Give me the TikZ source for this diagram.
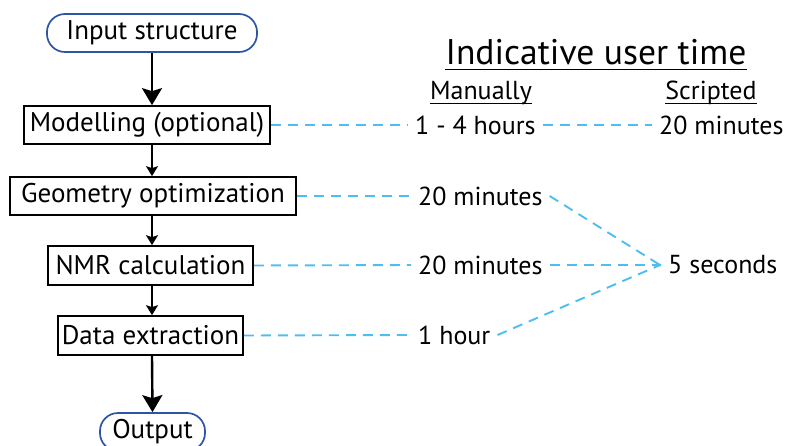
\documentclass[tikz,border=0pt]{standalone}
\usepackage{fontspec}
\setmainfont{PT Sans}
\usetikzlibrary{arrows.meta}
\definecolor{dashblue}{HTML}{4DBFEF}
\definecolor{termblue}{HTML}{2E55A3}
\tikzset{
  x=1pt,y=-1pt,
  stepbox/.style={draw=black,line width=1.7pt,inner sep=0pt,font=\fontsize{27}{31}\selectfont},
  termbox/.style={draw=termblue,line width=1.7pt,rounded corners=18pt,inner sep=0pt,font=\fontsize{27}{31}\selectfont},
  timetxt/.style={inner xsep=7pt,inner ysep=0pt,anchor=west,font=\fontsize{26}{30}\selectfont},
  headtxt/.style={inner sep=0pt,font=\fontsize{26}{30}\selectfont},
  conn/.style={dashblue,line width=1.9pt,dash pattern=on 10pt off 7pt},
  bigarrow/.style={line width=2.4pt,-{Stealth[length=17pt,width=20pt,inset=3pt]}},
  smallarrow/.style={line width=1.6pt,-{Stealth[length=10pt,width=12pt,inset=2pt]}},
}
\begin{document}
\begin{tikzpicture}
\useasboundingbox (0,0) rectangle (788,445);
% flow chart
\node[termbox,minimum width=210pt,minimum height=38pt] (in) at (152,33) {Input structure};
\node[stepbox,minimum width=246pt,minimum height=38pt] (mod) at (147,125) {Modelling (optional)};
\node[stepbox,minimum width=286pt,minimum height=38pt] (geo) at (153,196) {Geometry optimization};
\node[stepbox,minimum width=205pt,minimum height=39pt] (nmr) at (150.5,265.5) {NMR calculation};
\node[stepbox,minimum width=185pt,minimum height=39pt] (dat) at (150.5,335.5) {Data extraction};
\node[termbox,minimum width=105pt,minimum height=38pt] (out) at (152.5,432) {Output};
\draw[bigarrow] (in.south) -- (in.south |- mod.north);
\draw[smallarrow] (in.south |- mod.south) -- (in.south |- geo.north);
\draw[smallarrow] (in.south |- geo.south) -- (in.south |- nmr.north);
\draw[smallarrow] (in.south |- nmr.south) -- (in.south |- dat.north);
\draw[bigarrow] (in.south |- dat.south) -- (out.north);
% headings
\node[headtxt,font=\fontsize{35.6}{42}\selectfont] (title) at (596,52) {Indicative user time};
\draw[line width=1.6pt] ([yshift=-5pt]title.base west) -- ([yshift=-5pt]title.base east);
\node[headtxt] (man) at (481,93) {Manually};
\draw[line width=1.4pt] ([yshift=-4pt]man.base west) -- ([yshift=-4pt]man.base east);
\node[headtxt] (scr) at (711,93) {Scripted};
\draw[line width=1.4pt] ([yshift=-4pt]scr.base west) -- ([yshift=-4pt]scr.base east);
% times
\node[timetxt] (t1) at (408,125) {1 - 4 hours};
\node[timetxt] (s1) at (652,125) {20 minutes};
\node[timetxt] (t2) at (411,196) {20 minutes};
\node[timetxt] (t3) at (411,265) {20 minutes};
\node[timetxt] (t4) at (411,335) {1 hour};
\node[timetxt] (s2) at (661,265) {5 seconds};
\coordinate (c5) at (660,265);
% connectors
\draw[conn] (mod.east) -- (t1.west);
\draw[conn] (t1.east) -- (s1.west);
\draw[conn] (geo.east) -- (t2.west);
\draw[conn] (nmr.east) -- (t3.west);
\draw[conn] (dat.east) -- (t4.west);
\draw[conn] (t2.east) -- (c5);
\draw[conn] (t3.east) -- (c5);
\draw[conn] (t4.east) -- (c5);
\fill[dashblue] (c5) circle (1.7pt);
\end{tikzpicture}
\end{document}
